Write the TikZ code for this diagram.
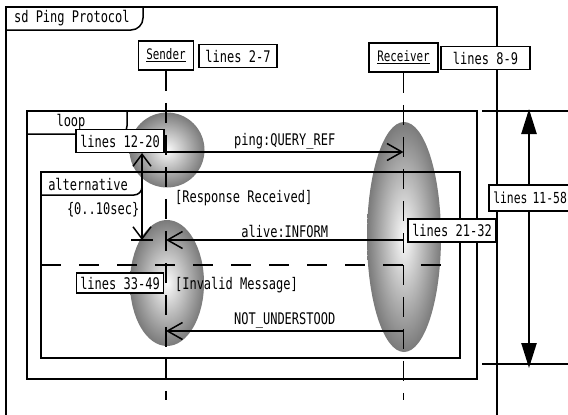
\documentclass[tikz,border=0pt]{standalone}
\usepackage{fontspec}
\newfontfamily\gth[FakeStretch=0.75]{DejaVu Sans Mono}
\usetikzlibrary{arrows.meta,positioning,calc}

\begin{document}
\begin{tikzpicture}[x=1pt,y=-1pt,line width=1.5pt,
 font=\gth\fontsize{16}{18}\selectfont,
 obj/.style={draw,fill=white,minimum height=29pt,inner sep=2pt,font=\gth\fontsize{14.5}{16}\selectfont},
 ln/.style={draw,fill=white,minimum height=23pt,inner sep=3pt},
 a/.style={-{Straight Barb[length=15pt,width=17pt]}},
 tm/.style={{Straight Barb[length=12pt,width=18pt]}-{Straight Barb[length=12pt,width=18pt]}},
 ms/.style={{Triangle[length=25pt,width=15pt]}-{Triangle[length=25pt,width=15pt]},line width=2.4pt},
 life/.style={dash pattern=on 20pt off 12pt},
 sep/.style={dash pattern=on 20pt off 18pt},
 sh/.style={inner color=gray!3,outer color=black!52},
 yl/.style={inner sep=2pt}]
\useasboundingbox (0,0) rectangle (568,415);
\clip (0,0) rectangle (568,415);
% activations
\shade[sh] (167,150) circle (37.5pt);
\shade[sh] (404,237) ellipse [x radius=37pt,y radius=115pt];
\shade[sh] (167,283) ellipse [x radius=37pt,y radius=63pt];
% frames
\draw (6,430) -- (6,7) -- (497,7) -- (497,430);
\draw[rounded corners=12pt] (6,30) -- (143,30) -- (143,7);
\node[anchor=west] (sd) at (10,18) {sd Ping Protocol};
\draw (27,111) rectangle (477,379);
\draw[rounded corners=8pt] (27,134) -- (127,134) -- (127,111);
\node (lp) at (71,122) {loop};
\draw (41,172) rectangle (460,358);
\draw[rounded corners=8pt] (41,195) -- (142,195) -- (142,172);
\node (alt) at (88,184) {alternative};
\draw[sep] (41,265) -- (460,265);
% lifelines
\node[obj,minimum width=55pt] (snd) at (166,55.5) {\underline{Sender}};
\node[obj,minimum width=69pt] (rcv) at (403.5,57.5) {\underline{Receiver}};
\coordinate (bot) at (0,400);
\coordinate (r1) at (0,152);
\coordinate (r2) at (0,240);
\coordinate (r3) at (0,331);
\draw[life] (snd) -- (snd |- bot);
\draw[life] (rcv) -- (rcv |- bot);
% messages
\draw[a] (snd |- r1) -- node[yl,above]{ping:QUERY\_REF} (rcv |- r1);
\draw[a] (rcv |- r2) -- node[yl,above]{alive:INFORM} (snd |- r2);
\draw[a] (rcv |- r3) -- node[yl,above]{NOT\_UNDERSTOOD} (snd |- r3);
\node[anchor=west] (rr) at (171,198) {[Response Received]};
\node[anchor=west] (im) at (171,285) {[Invalid Message]};
% line references
\node[ln,minimum width=78pt] (l27) at (238,56) {lines 2-7};
\node[ln,minimum width=89pt] (l89) at (485.5,58) {lines 8-9};
\node[ln,minimum width=88pt] (l1220) at (120,141) {lines 12-20};
\node[ln,minimum width=88pt] (l2132) at (452,230.5) {lines 21-32};
\node[ln,minimum width=87pt,minimum height=20pt] (l3349) at (120,283) {lines 33-49};
% time constraint
\coordinate (t0) at (142,153);
\draw[tm] (t0) -- node[yl,left,pos=0.65]{\{0..10sec\}} (t0 |- r2);
\draw ([xshift=-11pt]t0 |- r2) -- ([xshift=11pt]t0 |- r2);
% loop extent
\coordinate (m0) at (482,111);
\coordinate (m1) at (482,364);
\draw (m0) -- ++(100,0);
\draw (m1) -- ++(100,0);
\draw[ms] ([xshift=47pt,yshift=2pt]m0) -- ([xshift=47pt,yshift=-4pt]m1);
\node[ln,minimum width=95pt,minimum height=26pt,anchor=west,text width=86pt,inner sep=1.5pt,
 font=\gth\fontsize{15.2}{17}\selectfont] (l1158) at (488,198) {lines 11-58};
\end{tikzpicture}
\end{document}
